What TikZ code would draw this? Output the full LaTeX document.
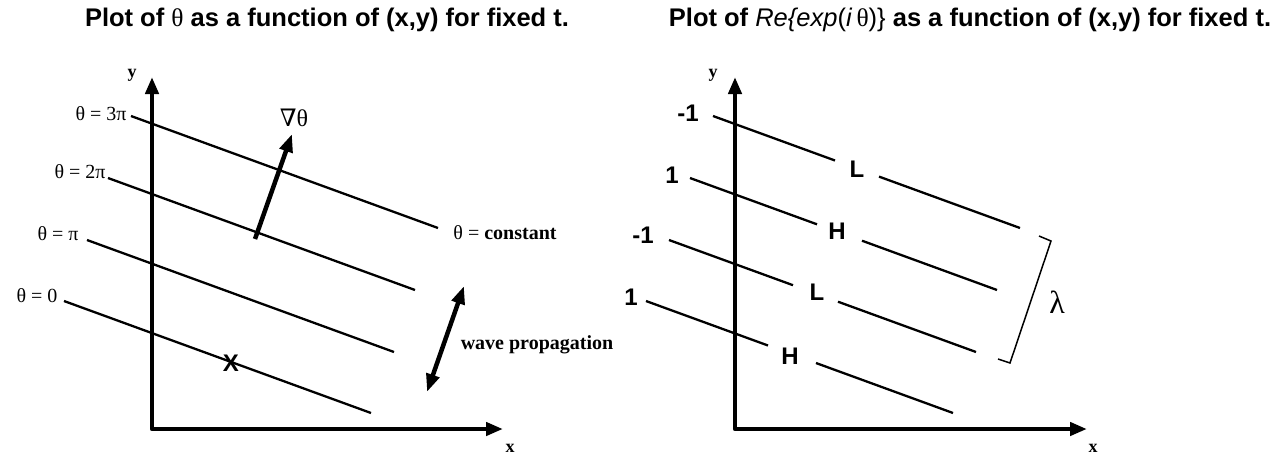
\documentclass[tikz,border=0pt]{standalone}
\usepackage{fontspec}
\setmainfont{Liberation Serif}
\setsansfont{Liberation Sans}
\newfontfamily\nablafont{DejaVu Serif}
\usetikzlibrary{arrows.meta}

\begin{document}
\begin{tikzpicture}[x=1pt,y=-1pt,line width=2.3pt,every node/.style={inner sep=1pt},
  axis/.style={line width=4.5pt,line join=round,{Triangle[length=17pt,width=13pt]}-{Triangle[length=17pt,width=13pt]}},
  grad/.style={line width=4.5pt,-{Triangle[length=18pt,width=13pt]}},
  prop/.style={line width=4.5pt,{Triangle[length=18pt,width=13pt]}-{Triangle[length=18pt,width=13pt]}},
  ttl/.style={font=\sffamily\bfseries\fontsize{25.5}{30}\selectfont},
  lbl/.style={font=\fontsize{20}{24}\selectfont},
  axl/.style={font=\bfseries\fontsize{18}{20}\selectfont},
  val/.style={font=\sffamily\bfseries\fontsize{24}{28}\selectfont}]
\useasboundingbox (0,0) rectangle (1285,456);
% titles
\node[ttl] (tl) at (327,20) {Plot of {\rmfamily\mdseries θ} as a function of (x,y) for fixed t.};
\node[ttl] (tr) at (970,20) {Plot of {\mdseries\itshape Re\{exp}{\mdseries(\textit{i}\,{\rmfamily θ})\}} as a function of (x,y) for fixed t.};
% left plot: phase
\coordinate (O1) at (152,429);
\coordinate (Y1) at (152,77);
\coordinate (X1) at (503,429);
\coordinate (A3) at (131,116);
\coordinate (B3) at (438,228);
\coordinate (A2) at (108,178);
\coordinate (B2) at (415,290);
\coordinate (A1) at (87,240);
\coordinate (B1) at (394,352);
\coordinate (A0) at (64,301);
\coordinate (B0) at (371,413);
\coordinate (G1) at (255,239);
\coordinate (G2) at (292,134);
\coordinate (W1) at (427,392);
\coordinate (W2) at (464,286);
\draw[axis] (Y1) -- (O1) -- (X1);
\draw (A3) -- (B3);
\draw (A2) -- (B2);
\draw (A1) -- (B1);
\draw (A0) -- (B0);
\draw[grad] (G1) -- (G2);
\draw[prop] (W1) -- (W2);
\node[axl] (y1) at (132,75) {y};
\node[axl] (x1) at (510,448) {x};
\node[lbl] (p3) at (101,114) {θ = 3π};
\node[lbl] (p2) at (80,172) {θ = 2π};
\node[lbl] (p1) at (58,234) {θ = π};
\node[lbl] (p0) at (37,296) {θ = 0};
\node[lbl,font=\fontsize{24}{28}\selectfont] (gr) at (294,118) {{\nablafont ∇}θ};
\node[lbl] (pc) at (505,233) {θ = \textbf{constant}};
\node[lbl,font=\bfseries\fontsize{20}{24}\selectfont] (wp) at (537,345) {wave propagation};
\node[val] (pt) at (231,363) {X};
% right plot: real part
\coordinate (O2) at (735,429);
\coordinate (Y2) at (735,77);
\coordinate (X2) at (1087,429);
\coordinate (C3) at (713,116);
\coordinate (D3) at (1020,228);
\coordinate (C2) at (690,178);
\coordinate (D2) at (997,290);
\coordinate (C1) at (669,240);
\coordinate (D1) at (976,352);
\coordinate (C0) at (646,301);
\coordinate (D0) at (953,413);
\coordinate (K1) at (1039,236);
\coordinate (K2) at (1051,241);
\coordinate (K3) at (1010,363);
\coordinate (K4) at (998,359);
\draw[axis] (Y2) -- (O2) -- (X2);
\draw (C3) -- (835,160.5) (879,176.6) -- (D3);
\draw (C2) -- (817,224.3) (862,240.7) -- (D2);
\draw (C1) -- (793,285.2) (838,301.7) -- (D1);
\draw (C0) -- (768,345.5) (816,363) -- (D0);
\draw[line width=1.5pt] (K1) -- (K2) -- (K3) -- (K4);
\node[axl] (y2) at (713,75) {y};
\node[axl] (x2) at (1093,448) {x};
\node[val] (r3) at (688,113) {-1};
\node[val] (r2) at (672,175) {1};
\node[val] (r1) at (643,235) {-1};
\node[val] (r0) at (631,297) {1};
\node[val] (m3) at (857,169) {L};
\node[val] (m2) at (837,231) {H};
\node[val] (m1) at (817,292) {L};
\node[val] (m0) at (790,356) {H};
\node[lbl,font=\fontsize{32}{36}\selectfont] (wl) at (1057,302) {λ};
\end{tikzpicture}
\end{document}
